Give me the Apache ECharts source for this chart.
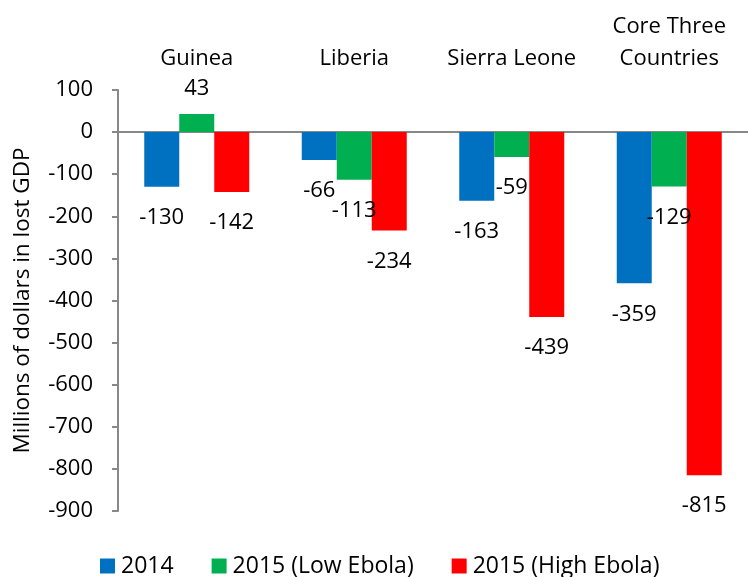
<!DOCTYPE html>
<html>
<head>
    <meta charset="utf-8">
    <title>Lost GDP</title>
    <script src="https://cdn.jsdelivr.net/npm/echarts@6/dist/echarts.min.js"></script>
    <style>
        html, body { margin: 0; padding: 0; background: #fff; }
    </style>
</head>
<body>
<div id="main" style="width: 748px;height:577px;"></div>
<script type="text/javascript">
    var countries = ["Guinea", "Liberia", "Sierra Leone", "Core Three\nCountries"];
    var seriesNames = ["2014", "2015 (Low Ebola)", "2015 (High Ebola)"];
    var y2014 = [-130, -66, -163, -359];
    var yLow = [43, -113, -59, -129];
    var yHigh = [-142, -234, -439, -815];
    var colors = ["#0070C0", "#00B050", "#FF0000"];

    var font = '"Open Sans", sans-serif';

    // label goes past the end of the bar, up or down
    function withLabels(arr) {
        return arr.map(function (v) {
            return {
                value: v,
                label: { position: v < 0 ? 'bottom' : 'top', distance: v < 0 ? 20 : 14 }
            };
        });
    }

    function makeSeries(name, arr, color) {
        return {
            name: name,
            type: 'bar',
            xAxisIndex: 1,
            barWidth: 35,
            barGap: '0%',
            itemStyle: { color: color },
            label: {
                show: true,
                color: '#000',
                fontSize: 22,
                fontFamily: font
            },
            data: withLabels(arr)
        };
    }

    var myChart = echarts.init(document.getElementById('main'));
    var option = {
        animation: false,
        textStyle: { fontFamily: font },
        grid: { left: 118, top: 90, width: 634, bottom: 66, containLabel: false },
        legend: {
            left: 95,
            top: 549,
            itemWidth: 15,
            itemHeight: 15,
            itemGap: 38,
            icon: 'rect',
            textStyle: { fontSize: 23, lineHeight: 24, color: '#000', fontFamily: font, padding: [0, 0, 0, 1] },
            data: seriesNames
        },
        xAxis: [{
            type: 'category',
            position: 'top',
            data: countries,
            axisLine: { show: false, onZero: false },
            axisTick: { show: false },
            axisLabel: { interval: 0, fontSize: 22, color: '#000', margin: 15, lineHeight: 32, fontFamily: font }
        }, {
            type: 'category',
            position: 'bottom',
            data: countries,
            axisLine: { show: true, onZero: true, lineStyle: { color: '#888', width: 2 } },
            axisTick: { show: false },
            axisLabel: { show: false }
        }],
        yAxis: {
            type: 'value',
            min: -900,
            max: 100,
            interval: 100,
            name: 'Millions of dollars in lost GDP',
            nameLocation: 'middle',
            nameGap: 84,
            nameTextStyle: { fontSize: 22.5, color: '#000', fontFamily: font },
            axisLine: { show: true, lineStyle: { color: '#888', width: 2 } },
            axisTick: { show: true, inside: false, length: 6, lineStyle: { color: '#888', width: 2 } },
            axisLabel: { fontSize: 22, color: '#000', margin: 25, fontFamily: font },
            splitLine: { show: false }
        },
        series: [
            makeSeries(seriesNames[0], y2014, colors[0]),
            makeSeries(seriesNames[1], yLow, colors[1]),
            makeSeries(seriesNames[2], yHigh, colors[2])
        ]
    };
    myChart.setOption(option);
</script>
</body>
</html>
